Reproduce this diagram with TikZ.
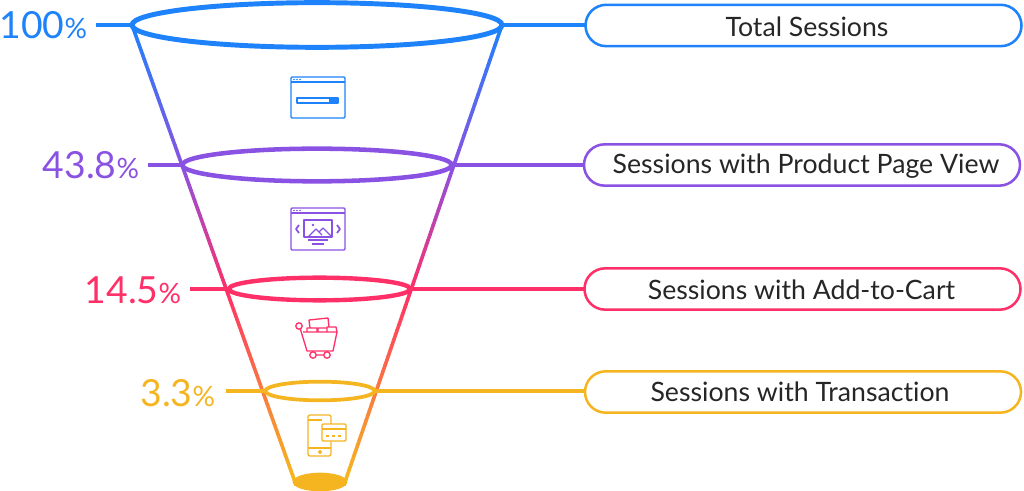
\documentclass[tikz,border=0pt]{standalone}
\usepackage{fontspec}
\setmainfont{Lato}[Ligatures=NoCommon]
\usetikzlibrary{shapes.geometric}
\definecolor{cblue}{HTML}{1E82FA}
\definecolor{cpurple}{HTML}{8A52E2}
\definecolor{cpink}{HTML}{FF2F68}
\definecolor{cyellow}{HTML}{F5B521}
\tikzset{
  x=0.75pt,y=-0.75pt,
  ring/.style={draw,ellipse,inner sep=0pt,outer sep=0pt,line width=3.7pt},
  tag/.style={draw,rounded corners=15.5pt,inner sep=0pt,outer sep=0pt,line width=1.9pt,minimum height=31pt,minimum width=327pt,font=\fontsize{20}{24}\selectfont},
  pct/.style={inner sep=0pt,outer sep=0pt,anchor=east,font=\fontsize{28}{32}\selectfont},
  lead/.style={line width=2.4pt},
  icon/.style={line width=1pt,line join=round,fill=none},
  tagtext/.style={inner sep=0pt,text=black!85,font=\fontsize{20}{24}\selectfont},
}
\newcommand{\pc}{{\fontsize{21}{24}\selectfont\%}}
\begin{document}
\begin{tikzpicture}
\useasboundingbox (0,0) rectangle (1024,491);
% funnel sides with vertical colour gradient
\foreach \i in {0,...,91}{
  \pgfmathsetmacro{\ya}{25+\i*5}
  \pgfmathsetmacro{\yb}{25+(\i+1)*5+0.4}
  \pgfmathsetmacro{\ym}{\ya+2.5}
  \pgfmathsetmacro{\xla}{132+(\ya-25)*0.35667}
  \pgfmathsetmacro{\xlb}{132+(\yb-25)*0.35667}
  \pgfmathsetmacro{\xra}{502-(\ya-25)*0.34354}
  \pgfmathsetmacro{\xrb}{502-(\yb-25)*0.34354}
  \ifdim\ym pt<165pt
    \pgfmathsetmacro{\tmix}{(\ym-25)/1.40}
    \colorlet{segc}{cpurple!\tmix!cblue}
  \else\ifdim\ym pt<290pt
    \pgfmathsetmacro{\tmix}{(\ym-165)/1.25}
    \colorlet{segc}{cpink!\tmix!cpurple}
  \else\ifdim\ym pt<475pt
    \pgfmathsetmacro{\tmix}{(\ym-290)/1.85}
    \colorlet{segc}{cyellow!\tmix!cpink}
  \else
    \colorlet{segc}{cyellow}
  \fi\fi\fi
  \draw[segc,line width=2.7pt] (\xla,\ya) -- (\xlb,\yb);
  \draw[segc,line width=2.7pt] (\xra,\ya) -- (\xrb,\yb);
}
% rings
\node[ring,cblue,minimum width=277.5pt,minimum height=33.5pt] (e1) at (317,25) {};
\node[ring,cpurple,minimum width=202pt,minimum height=24.5pt,line width=3.4pt] (e2) at (317,165) {};
\node[ring,cpink,minimum width=136pt,minimum height=17pt,line width=3.3pt] (e3) at (319.5,289) {};
\node[ring,cyellow,minimum width=82pt,minimum height=14pt,line width=2.8pt] (e4) at (320,391) {};
\node[ellipse,fill=cyellow,inner sep=0pt,minimum width=41pt,minimum height=14pt] (e5) at (320,482) {};
% tags
\node[tag,cblue] (b1) at (803.5,25.5) {};
\node[tag,cpurple] (b2) at (802,165) {};
\node[tag,cpink] (b3) at (802.5,289) {};
\node[tag,cyellow] (b4) at (803,392) {};
\node[tagtext] (t1) at (807,26.5) {Total Sessions};
\node[tagtext] (t2) at (806,166) {Sessions with Product Page View};
\node[tagtext] (t3) at (801.5,289.5) {Sessions with Add-to-Cart};
\node[tagtext] (t4) at (800,392) {Sessions with Transaction};
% percentages
\node[pct,cblue] (p1) at (87,25) {100\pc};
\node[pct,cpurple] (p2) at (139,165) {43.8\pc};
\node[pct,cpink] (p3) at (181,290) {14.5\pc};
\node[pct,cyellow] (p4) at (215,393) {3.3\pc};
\coordinate (s1) at (96,25);
\coordinate (s2) at (148,165);
\coordinate (s3) at (190,289);
\coordinate (s4) at (226,391);
% leaders
\draw[lead,cblue] (s1) -- (e1.west);
\draw[lead,cblue] (e1.east) -- (e1.east -| b1.west);
\draw[lead,cpurple] (s2) -- (e2.west);
\draw[lead,cpurple] (e2.east) -- (e2.east -| b2.west);
\draw[lead,cpink] (s3) -- (e3.west);
\draw[lead,cpink] (e3.east) -- (e3.east -| b3.west);
\draw[lead,cyellow] (s4) -- (e4.west);
\draw[lead,cyellow] (e4.east) -- (e4.east -| b4.west);
% icon 1: browser with search bar
\begin{scope}[icon,cblue]
  \draw[rounded corners=0.8pt] (291,77) rectangle (345,118);
  \draw (291,82) -- (345,82);
  \fill (294,79.5) circle (0.6pt) (297,79.5) circle (0.6pt) (300,79.5) circle (0.6pt);
  \draw (297,98) rectangle (338,103);
  \fill (329,98) rectangle (338,103);
\end{scope}
% icon 2: browser with picture
\begin{scope}[icon,cpurple]
  \draw[rounded corners=0.8pt] (291,208) rectangle (345,250);
  \draw (291,213) -- (345,213);
  \fill (294,210.5) circle (0.6pt) (297,210.5) circle (0.6pt) (300,210.5) circle (0.6pt);
  \draw (304,220) rectangle (332,237);
  \draw (308,237) -- (316,229) -- (322,235) (319,232) -- (323,228) -- (331,236);
  \fill (313,225) circle (1.1pt);
  \draw (308,240) -- (328,240) (312,244) -- (324,244);
  \draw[line width=1.3pt] (299,225) -- (296,229) -- (299,233) (337,225) -- (340,229) -- (337,233);
\end{scope}
% icon 3: cart
\begin{scope}[icon,cpink]
  \draw (300,328) -- (307,351) -- (333,351) -- (337,332) -- (303,332);
  \draw (299,326) circle (2.4pt);
  \draw (309,320) -- (328,318) -- (329,327);
  \draw (309,320) -- (310,328);
  \draw (307,332) -- (307,328) -- (317,328) -- (317,332) (318,332) -- (318,328) -- (327,328) -- (327,332) (327,332) -- (327,327) -- (336,327) -- (337,332);
  \draw (313,355) circle (2.4pt) (327,355) circle (2.4pt) (316,355) -- (324,355);
\end{scope}
% icon 4: phone and card
\begin{scope}[icon,cyellow]
  \draw[rounded corners=1.5pt] (308,415) rectangle (331,456);
  \draw (308,420) -- (322,420) (308,448) -- (331,448);
  \draw (320,452) circle (1.1pt);
  \draw[fill=white,rounded corners=0.8pt] (322,424) rectangle (346,441);
  \draw (322,429) -- (346,429);
  \draw[line width=1.2pt] (326,436) -- (329,436) (332,436) -- (335,436) (338,436) -- (341,436);
\end{scope}
\end{tikzpicture}
\end{document}
